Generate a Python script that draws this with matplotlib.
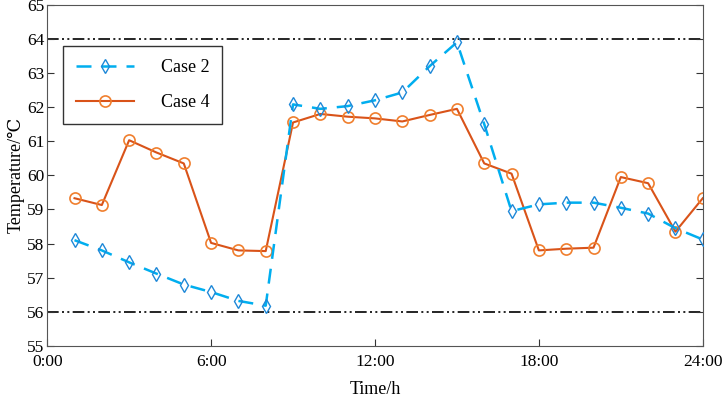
import matplotlib
matplotlib.use('Agg')
import matplotlib.pyplot as plt

plt.rcParams['font.family'] = ['Liberation Serif', 'DejaVu Serif']
plt.rcParams['font.size'] = 12

# 数据
hours = list(range(1, 25))
case2 = [58.1, 57.8, 57.45, 57.12, 56.8, 56.58, 56.32, 56.18,
         62.08, 61.95, 62.03, 62.2, 62.43, 63.2, 63.9, 61.5,
         58.95, 59.15, 59.2, 59.2, 59.05, 58.88, 58.45, 58.12]
case4 = [59.33, 59.13, 61.03, 60.67, 60.35, 58.02, 57.8, 57.78,
         61.55, 61.8, 61.72, 61.67, 61.58, 61.77, 61.95, 60.35,
         60.05, 57.8, 57.85, 57.88, 59.95, 59.77, 58.35, 59.33]
limits = [64, 56]
xticks = [0, 6, 12, 18, 24]
xticklabels = ['0:00', '6:00', '12:00', '18:00', '24:00']

fig = plt.figure(figsize=(7.26, 3.99), dpi=100)
ax = fig.add_axes([0.065, 0.133, 0.903, 0.855])

# 温度上下限
for v in limits:
    ax.axhline(v, color='black', lw=1.2, dashes=(7, 2, 1.2, 2, 1.2, 2), zorder=1)

ax.plot(hours, case2, color='#00AEEF', lw=1.8, dashes=(6, 4),
        marker='d', markersize=7.5, markerfacecolor='none',
        markeredgecolor='#1E88D8', markeredgewidth=1.0, label='Case 2', zorder=3)
ax.plot(hours, case4, color='#D95319', lw=1.5,
        marker='o', markersize=8, markerfacecolor='none',
        markeredgecolor='#F07F2E', markeredgewidth=1.2, label='Case 4', zorder=2)

ax.set_xlim(0, 24)
ax.set_ylim(55, 65)
ax.set_xticks(xticks)
ax.set_xticklabels(xticklabels)
ax.set_yticks(range(55, 66))
ax.tick_params(direction='in', length=5, right=True, width=0.8, colors='#333333',
               labelcolor='black', labelsize=12.5, pad=2)
ax.tick_params(axis='x', pad=6)
for s in ax.spines.values():
    s.set_color('#555555')
    s.set_linewidth(0.8)

ax.set_xlabel('Time/h', fontsize=13, labelpad=8)
ax.set_ylabel('Temperature/℃', fontsize=13, labelpad=2)

leg = ax.legend(loc='upper left', bbox_to_anchor=(0.011, 0.905), fontsize=13,
                frameon=True, fancybox=False, edgecolor='black', handlelength=3.2,
                borderpad=0.7, labelspacing=1.0, handletextpad=1.5)
leg.get_frame().set_linewidth(1.0)

fig.savefig('out.png', dpi=100)
